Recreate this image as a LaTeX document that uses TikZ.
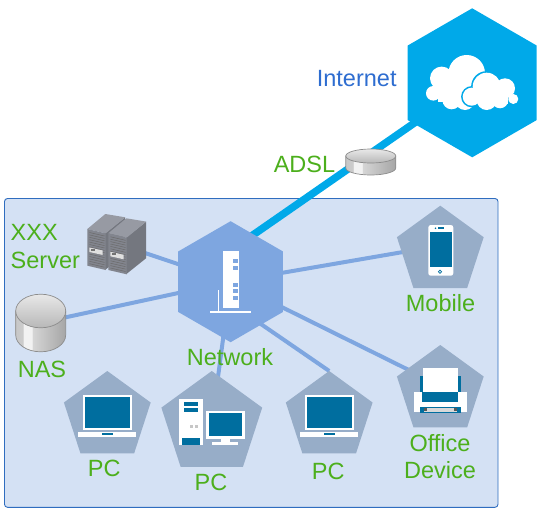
\documentclass[tikz,border=0pt]{standalone}
\usepackage{fontspec}
\setmainfont{Liberation Sans}
\usetikzlibrary{shapes.geometric, backgrounds}
\definecolor{lanfill}{HTML}{D4E1F4}
\definecolor{lanedge}{HTML}{2F6DBF}
\definecolor{skyblue}{HTML}{00A9E9}
\definecolor{netblue}{HTML}{7EA6E0}
\definecolor{pentgrey}{HTML}{97ADC8}
\definecolor{iconteal}{HTML}{006E9F}
\definecolor{labelgreen}{HTML}{4CAF1C}
\definecolor{labelblue}{HTML}{2E6DD0}
\definecolor{srvfront}{HTML}{82858E}
\definecolor{srvtop}{HTML}{979AA3}
\definecolor{srvside}{HTML}{74777F}
\pgfdeclarehorizontalshading{drumbody}{100bp}{
  color(0bp)=(black!22); color(25bp)=(black!22);
  color(32.5bp)=(black!20); color(33bp)=(black!5); color(41bp)=(black!5);
  color(41.5bp)=(black!16); color(75bp)=(black!35); color(100bp)=(black!35)}
\newcommand{\drumicon}[5]{
  \path[shading=drumbody,draw=black!45,line width=0.7pt] (#1-#3,#2) -- (#1-#3,#2+#5)
    arc (180:0:#3 and #4) -- (#1+#3,#2) -- cycle;
  \draw[draw=black!45,line width=0.7pt,top color=black!9,bottom color=black!28] (#1,#2) ellipse (#3 and #4);
}
\tikzset{
  laptopicon/.pic={
    \fill[white] (82.7,395) rectangle (132,430);
    \fill[iconteal] (85,397) rectangle (130,428.3);
    \fill[white] (78.3,432) rectangle (136,436.7);
    \fill[iconteal] (102.3,433.3) rectangle (113.3,435);
  },
}
\begin{document}
\begin{tikzpicture}[
      x=1pt,y=-1pt,
      hexnode/.style={
        regular polygon,
        regular polygon sides=6,
        shape border rotate=30,
        inner sep=0pt,
        outer sep=0pt,
      },
      pentnode/.style={
        regular polygon,
        regular polygon sides=5,
        inner sep=0pt,
        outer sep=0pt,
        fill=pentgrey,
      },
      devlabel/.style={
        font=\fontsize{23.5}{27.3}\selectfont,
        text=labelgreen,
        inner sep=0pt,
      },
      lanlink/.style={
        draw=netblue,
        line width=4pt,
      },
      adsllink/.style={
        draw=skyblue,
        line width=7.5pt,
      },
      ventline/.style={
        draw=black!58,
        line width=0.5pt,
      },
      ]
      \useasboundingbox (0,0) rectangle (546,514);
      \node[hexnode,fill=skyblue,minimum size=149pt] (inet) at (472.2,82.8) {};
      \node[hexnode,fill=netblue,minimum size=121pt] (net) at (230.6,281.7) {};
      \node[pentnode,minimum size=91.2pt] (mobile) at (440.3,251.3) {};
      \node[pentnode,minimum size=91.2pt] (office) at (440.3,390.6) {};
      \node[pentnode,minimum size=91.2pt] (pcleft) at (107.3,416.6) {};
      \node[pentnode,minimum size=106pt] (pcmid) at (211.8,424) {};
      \node[pentnode,minimum size=91.2pt] (pcright) at (329.2,416.6) {};
      \node[inner sep=0pt] (srv) at (117,243.6) {};
      \node[inner sep=0pt] (nas) at (40.7,322.7) {};
      \node[inner sep=0pt] (modem) at (370.8,162) {};
      \coordinate (netport) at (246,239.8);
      \begin{scope}[on background layer]
        \draw[fill=lanfill,draw=lanedge,line width=0.9pt,rounded corners=3pt] (4.5,198.5) rectangle (498,507.3);
        \draw[adsllink] (inet.center) -- (netport);
        \draw[lanlink] (net.center) -- (srv);
        \draw[lanlink] (net.center) -- (nas);
        \draw[lanlink] (net.center) -- ([yshift=5.7pt]mobile.center);
        \draw[lanlink] (net.center) -- ([yshift=5pt]office.center);
        \draw[lanlink] (net.center) -- (pcmid.center);
        \draw[lanlink] ([yshift=-21.5pt]net.center) -- (pcright.corner 1);
      \end{scope}
      % cloud
      \foreach \cx/\cy/\cr in {466.7/73.3/18.3,441.7/78.3/11.7,433.3/93.3/7.3,451.7/100/9.3,465/100/10}{
        \fill[white] (\cx,\cy) circle (\cr);
      }
      \fill[white] (438,78) rectangle (472,102);
      \foreach \cx/\cy/\cr in {486.7/86.7/14,471.7/96.7/9,486.7/100/10}{
        \fill[skyblue] (\cx,\cy) circle (\cr+1.6);
      }
      \foreach \cx/\cy/\cr in {486.7/86.7/14,471.7/96.7/9,505/88.3/10,513.3/99/5,486.7/100/10,500/100/8.3}{
        \fill[white] (\cx,\cy) circle (\cr);
      }
      \fill[white] (478,90) rectangle (508,104);
      % router
      \fill[white] (223,251) rectangle (239,307.7);
      \foreach \wy in {259,265.7,282.7,289,295.7}{
        \fill[netblue] (233.3,\wy) rectangle (238.3,\wy+4.4);
      }
      \fill[white] (218,290) rectangle (219,311);
      \fill[white] (210,311) rectangle (251,313);
      % modem and nas
      \drumicon{370.8}{156}{25}{7}{12}
      \drumicon{40.7}{311}{25}{16.8}{24}
      % server
      \foreach \sx/\sy in {0/0,21/4.3}{
        \begin{scope}[shift={(\sx,\sy)}]
          \fill[srvside] (105,233.3) -- (125,217.5) -- (125,254) -- (105,270) -- cycle;
          \fill[srvtop] (87.3,229) -- (105.3,214) -- (125.3,217.3) -- (105.7,233.3) -- cycle;
          \fill[srvfront] (87.3,229) -- (105.7,233.3) -- (105.7,270) -- (87.3,265.7) -- cycle;
          \foreach \k in {0,2.4,...,32}{
            \draw[ventline] (89.5,232.5+\k) -- (104.5,236+\k);
          }
          \fill[black!12] (89.3,247.5) -- (102.7,250.5) -- (102.7,255) -- (89.3,252) -- cycle;
          \fill[black!55] (91,248.5) rectangle (94.5,251);
        \end{scope}
      }
      % laptops
      \pic at (0,0) {laptopicon};
      \pic at (222,0) {laptopicon};
      % desktop
      \fill[white] (179.3,399) rectangle (202.7,445);
      \fill[iconteal] (183.7,402.3) rectangle (198.3,406);
      \fill[iconteal] (183.7,408.3) rectangle (198.3,412);
      \fill[iconteal] (182.3,437.7) rectangle (200,445);
      \fill[black!22] (190,425) rectangle (193.3,428.3);
      \fill[black!22] (195,425) rectangle (198.3,428.3);
      \fill[white] (205.7,410.7) rectangle (245,439.3);
      \fill[iconteal] (209,413) rectangle (241.7,436);
      \fill[white] (221,439.3) rectangle (230,442);
      \fill[white] (212,441.7) rectangle (238.3,445);
      % printer
      \fill[iconteal] (419.7,375.7) rectangle (461,401.7);
      \fill[white] (414.3,392.3) rectangle (466.7,412.3);
      \fill[iconteal] (422.3,392.3) rectangle (458.3,401.7);
      \fill[white] (423.3,368.3) rectangle (457.7,392.3);
      \fill[iconteal] (419.7,406.7) rectangle (461,413.3);
      \fill[black!15] (424.3,408.3) rectangle (456.7,411.7);
      \fill[black!65] (424.3,408.3) rectangle (427,410.5);
      \fill[black!65] (454,408.3) rectangle (456.7,410.5);
      % phone
      \fill[white,rounded corners=2.5pt] (428.3,225) rectangle (453.3,275.7);
      \fill[iconteal] (429.7,231.7) rectangle (452,267.3);
      \fill[iconteal] (438,227.3) rectangle (443.5,229.3);
      \fill[iconteal] (435.5,228.3) circle (0.9);
      \draw[iconteal,line width=0.7pt] (440,271.7) circle (1.6);
      % labels
      \node[devlabel,text=labelblue,anchor=base] (inetlabel) at (356.7,86) {Internet};
      \node[devlabel,anchor=base] (adsllabel) at (304.5,172) {ADSL};
      \node[devlabel,align=left,anchor=west] (srvlabel) at (10.5,246.5) {XXX\\Server};
      \node[devlabel,anchor=base] (naslabel) at (42,377.7) {NAS};
      \node[devlabel,anchor=base] (netlabel) at (230,365) {Network};
      \node[devlabel,anchor=base] (pcleftlabel) at (104.2,476.5) {PC};
      \node[devlabel,anchor=base] (pcmidlabel) at (211,490.5) {PC};
      \node[devlabel,anchor=base] (pcrightlabel) at (328.2,479.3) {PC};
      \node[devlabel,anchor=base] (mobilelabel) at (440.5,311.7) {Mobile};
      \node[devlabel,align=center] (officelabel) at (440,456.5) {Office\\Device};
    \end{tikzpicture}
\end{document}
